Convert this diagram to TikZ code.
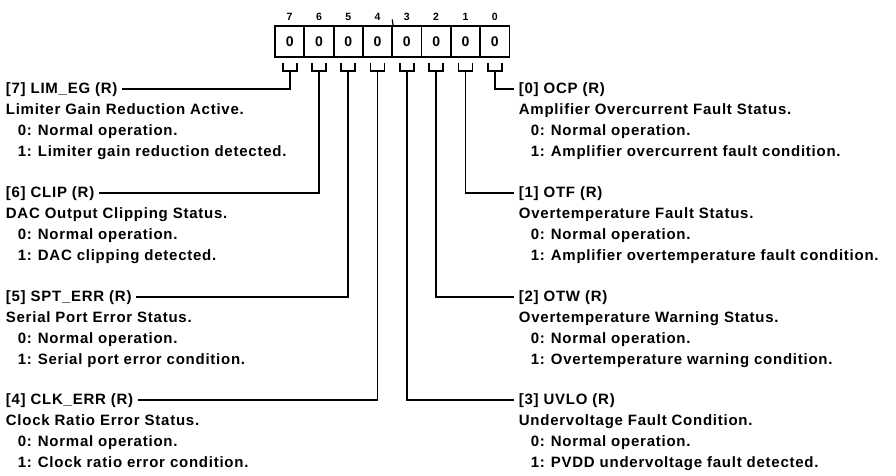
\documentclass[tikz,border=0pt]{standalone}
\usepackage{fontspec}
\setmainfont[LetterSpace=5]{Liberation Sans}
\begin{document}
\begin{tikzpicture}[x=1pt,y=-1pt,line width=1.8pt,
  txt/.style={font=\fontsize{15}{17}\selectfont\bfseries,inner sep=0pt,anchor=west,text height=10.5pt,text depth=3pt},
  cell/.style={draw,line width=1.8pt,minimum width=29.3pt,minimum height=31pt,inner sep=0pt,font=\fontsize{14}{16}\selectfont\bfseries},
  bitnum/.style={inner sep=0pt,font=\fontsize{10.5}{12}\selectfont\bfseries}]
\useasboundingbox (0,0) rectangle (896,475);
% register cells
\foreach \i in {0,...,7}{
  \pgfmathtruncatemacro\b{7-\i}
  \pgfmathsetmacro\cx{275+29.3*\i+14.65}
  \node[cell] (c\b) at (\cx,41.5) {0};
  \node[bitnum] (n\b) at (\cx,16.5) {\b};
  \draw (\cx-7,63) -- (\cx-7,71) -- (\cx+7,71) -- (\cx+7,63);
  \coordinate (k\b) at (\cx,71);
}
\coordinate (tick) at (392.2,19.5);
\draw[line width=1.2pt] (tick) -- (c4.north east);
% left groups
\foreach \b/\Y/\t/\d/\one in {
  7/89/{[7] LIM\_EG (R)}/{Limiter Gain Reduction Active.}/{Limiter gain reduction detected.},
  6/193/{[6] CLIP (R)}/{DAC Output Clipping Status.}/{DAC clipping detected.},
  5/297/{[5] SPT\_ERR (R)}/{Serial Port Error Status.}/{Serial port error condition.},
  4/400/{[4] CLK\_ERR (R)}/{Clock Ratio Error Status.}/{Clock ratio error condition.}}{
  \node[txt] (t\b) at (5,\Y+1) {\t};
  \node[txt] (d\b) at (5,\Y+22) {\d};
  \node[txt] (z\b) at (17,\Y+43) {\makebox[20pt][l]{0:}Normal operation.};
  \node[txt] (o\b) at (17,\Y+64) {\makebox[20pt][l]{1:}\one};
  \draw ([xshift=4pt]t\b.east |- 0,\Y) -- (k\b |- 0,\Y) -- (k\b);
}
% right groups
\foreach \b/\Y/\t/\d/\one in {
  0/89/{[0] OCP (R)}/{Amplifier Overcurrent Fault Status.}/{Amplifier overcurrent fault condition.},
  1/193/{[1] OTF (R)}/{Overtemperature Fault Status.}/{Amplifier overtemperature fault condition.},
  2/297/{[2] OTW (R)}/{Overtemperature Warning Status.}/{Overtemperature warning condition.},
  3/400/{[3] UVLO (R)}/{Undervoltage Fault Condition.}/{PVDD undervoltage fault detected.}}{
  \node[txt] (t\b) at (518,\Y+1) {\t};
  \node[txt] (d\b) at (518,\Y+22) {\d};
  \node[txt] (z\b) at (530,\Y+43) {\makebox[20pt][l]{0:}Normal operation.};
  \node[txt] (o\b) at (530,\Y+64) {\makebox[20pt][l]{1:}\one};
  \draw ([xshift=-4pt]t\b.west |- 0,\Y) -- (k\b |- 0,\Y) -- (k\b);
}
\end{tikzpicture}
\end{document}
